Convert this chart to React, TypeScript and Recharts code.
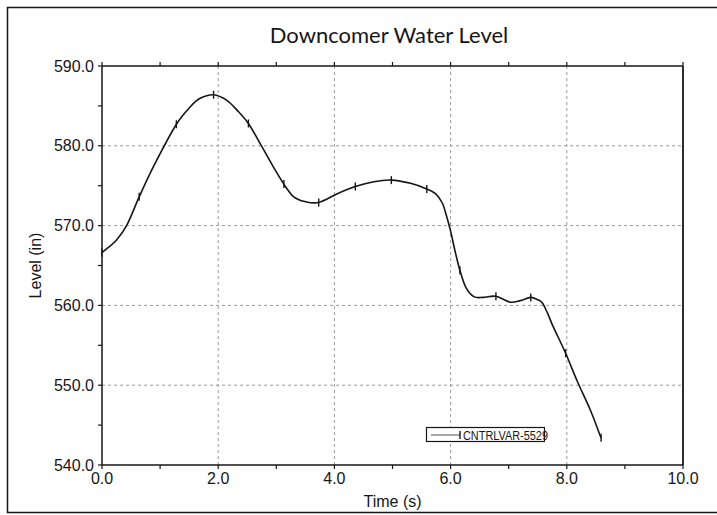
import React from 'react';
import { LineChart, Line, XAxis, YAxis, ReferenceLine, Legend } from 'recharts';

// Time (s) of each point
const timeS = [
  0.0, 0.25, 0.43, 0.64, 0.9, 1.28, 1.52, 1.69, 1.92, 2.15, 2.32, 2.52, 2.72, 2.93,
  3.13, 3.3, 3.5, 3.73, 4.05, 4.36, 4.68, 4.98, 5.31, 5.59, 5.74, 5.86, 5.93, 6.0, 6.08,
  6.16, 6.26, 6.4, 6.55, 6.78, 7.03, 7.2, 7.38, 7.49, 7.58, 7.67, 7.75, 7.98, 8.18, 8.41, 8.59,
];
// Downcomer water level (in)
const levelIn = [
  566.6, 568.2, 570.1, 573.6, 577.6, 582.7, 584.9, 585.95, 586.4, 585.7, 584.5, 582.8, 580.3, 577.6,
  575.2, 573.6, 573.0, 572.9, 574.0, 574.9, 575.5, 575.7, 575.3, 574.6, 574.0, 572.8, 571.2, 569.3, 566.7,
  564.4, 562.3, 561.1, 561.0, 561.15, 560.4, 560.6, 561.0, 560.75, 560.3, 559.0, 557.6, 554.0, 550.5, 546.8, 543.4,
];
// Times at which the plotted series shows a tick marker
const markerTimes = [0.0, 0.64, 1.28, 1.92, 2.52, 3.13, 3.73, 4.36, 4.98, 5.59, 6.16, 6.78, 7.38, 7.98, 8.59];

const xTicks = [0, 1, 2, 3, 4, 5, 6, 7, 8, 9, 10];
const yTicks = [540, 545, 550, 555, 560, 565, 570, 575, 580, 585, 590];
const xGrid = [2, 4, 6, 8];
const yGrid = [550, 560, 570, 580];

const seriesName = 'CNTRLVAR-5529';
const title = 'Downcomer Water Level';
const xLabel = 'Time (s)';
const yLabel = 'Level (in)';

const data = timeS.map((t, i) => ({ t, level: levelIn[i] }));

const AX = '#161616';
const FONT = '"Liberation Sans", Arial, sans-serif';

const xFmt = (v: number) => (v % 2 === 0 ? v.toFixed(1) : '');
const yFmt = (v: number) => (v % 10 === 0 ? v.toFixed(1) : '');
const blank = () => '';

// Smooth cubic Hermite curve with finite-difference tangents (x-aware, no monotone clamping)
function smoothCurve(context: any) {
  let xs: number[] = [];
  let ys: number[] = [];
  return {
    areaStart() {},
    areaEnd() {},
    lineStart() {
      xs = [];
      ys = [];
    },
    point(x: number, y: number) {
      xs.push(+x);
      ys.push(+y);
    },
    lineEnd() {
      const n = xs.length;
      if (n === 0) return;
      context.moveTo(xs[0], ys[0]);
      if (n === 1) return;
      const m = xs.map((_, i) => {
        const a = Math.max(0, i - 1);
        const b = Math.min(n - 1, i + 1);
        return (ys[b] - ys[a]) / (xs[b] - xs[a]);
      });
      for (let i = 0; i < n - 1; i++) {
        const d = (xs[i + 1] - xs[i]) / 3;
        context.bezierCurveTo(
          xs[i] + d,
          ys[i] + m[i] * d,
          xs[i + 1] - d,
          ys[i + 1] - m[i + 1] * d,
          xs[i + 1],
          ys[i + 1]
        );
      }
    },
  };
}

const MarkerDot = (props: any) => {
  const { cx, cy, payload, index } = props;
  if (cx == null || cy == null || !markerTimes.includes(payload.t)) return <g key={`d${index}`} />;
  return (
    <g key={`d${index}`}>
      <line x1={cx} y1={cy - 4} x2={cx} y2={cy + 4} stroke={AX} strokeWidth={1.4} />
    </g>
  );
};

const LegendBox = () => (
  <svg width={126} height={17} style={{ overflow: 'visible', display: 'block' }}>
    <rect x={0.5} y={0.5} width={118} height={14} fill="#fff" stroke={AX} strokeWidth={1.2} />
    <line x1={5} y1={8} x2={34} y2={8} stroke="#555" strokeWidth={1} />
    <line x1={34} y1={4} x2={34} y2={12} stroke={AX} strokeWidth={1.4} />
    <text
      x={37}
      y={12.5}
      fontFamily={FONT}
      fontSize={12.5}
      fill={AX}
      textLength={85}
      lengthAdjust="spacingAndGlyphs"
    >
      {seriesName}
    </text>
  </svg>
);

export default function App() {
  return (
    <div style={{ position: 'absolute', left: 0, top: 0, width: 717, height: 515, background: '#fff' }}>
      <LineChart
        width={717}
        height={515}
        data={data}
        margin={{ top: 56, right: 24, bottom: 8, left: 0 }}
      >
        <XAxis
          xAxisId="bottom"
          dataKey="t"
          type="number"
          domain={[0, 10]}
          ticks={xTicks}
          tickFormatter={xFmt}
          height={42}
          tickSize={4}
          tickMargin={4}
          axisLine={{ stroke: AX, strokeWidth: 1.5 }}
          tickLine={{ stroke: AX, strokeWidth: 1.2 }}
          tick={{ fill: AX, fontSize: 16, fontFamily: FONT }}
          interval={0}
          label={{ value: xLabel, position: 'insideBottom', offset: 0, fill: AX, fontSize: 16, fontFamily: FONT }}
        />
        <XAxis
          xAxisId="top"
          orientation="top"
          dataKey="t"
          type="number"
          domain={[0, 10]}
          ticks={xTicks}
          tickFormatter={blank}
          height={10}
          tickSize={4}
          axisLine={{ stroke: AX, strokeWidth: 1.5 }}
          tickLine={{ stroke: AX, strokeWidth: 1.2 }}
          interval={0}
        />
        <YAxis
          yAxisId="left"
          type="number"
          domain={[540, 590]}
          ticks={yTicks}
          tickFormatter={yFmt}
          width={102}
          tickSize={4}
          tickMargin={4}
          axisLine={{ stroke: AX, strokeWidth: 1.5 }}
          tickLine={{ stroke: AX, strokeWidth: 1.2 }}
          tick={{ fill: AX, fontSize: 16, fontFamily: FONT }}
          interval={0}
          label={{
            value: yLabel,
            angle: -90,
            position: 'insideLeft',
            offset: 35,
            fill: AX,
            fontSize: 16,
            fontFamily: FONT,
            style: { textAnchor: 'middle' },
          }}
        />
        <YAxis
          yAxisId="right"
          orientation="right"
          type="number"
          domain={[540, 590]}
          ticks={yTicks}
          tickFormatter={blank}
          width={10}
          tickSize={4}
          axisLine={{ stroke: AX, strokeWidth: 1.8 }}
          tickLine={{ stroke: AX, strokeWidth: 1.2 }}
          interval={0}
        />
        {xGrid.map((v) => (
          <ReferenceLine
            key={`gx${v}`}
            x={v}
            xAxisId="bottom"
            yAxisId="left"
            stroke="#9a9a9a"
            strokeDasharray="3 3"
            strokeWidth={1}
          />
        ))}
        {yGrid.map((v) => (
          <ReferenceLine
            key={`gy${v}`}
            y={v}
            xAxisId="bottom"
            yAxisId="left"
            stroke="#9a9a9a"
            strokeDasharray="3 3"
            strokeWidth={1}
          />
        ))}
        <Line
          xAxisId="bottom"
          yAxisId="left"
          type={smoothCurve as any}
          dataKey="level"
          name={seriesName}
          stroke={AX}
          strokeWidth={1.6}
          dot={MarkerDot}
          activeDot={false}
          isAnimationActive={false}
        />
        <Legend
          layout="vertical"
          verticalAlign="middle"
          align="center"
          content={LegendBox}
          wrapperStyle={{ position: 'absolute', left: 426, top: 427, width: 126, height: 17 }}
        />
      </LineChart>
      <svg
        width={717}
        height={515}
        style={{ position: 'absolute', left: 0, top: 0, pointerEvents: 'none' }}
      >
        <path d="M 717 7.5 L 7.5 7.5 L 7.5 512.5 L 717 512.5" fill="none" stroke={AX} strokeWidth={1.5} />
        <text
          x={389}
          y={43}
          textAnchor="middle"
          fontFamily='Lato, "Open Sans", sans-serif'
          fontSize={22}
          fill={AX}
        >
          {title}
        </text>
      </svg>
    </div>
  );
}
